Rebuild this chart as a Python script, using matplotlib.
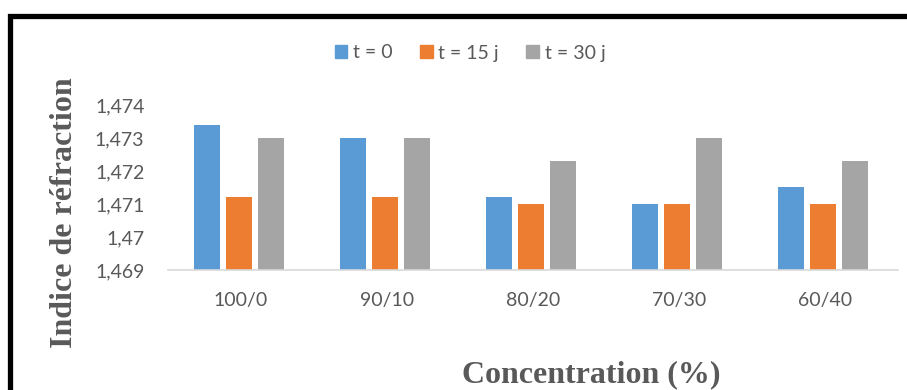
import matplotlib
matplotlib.use("Agg")
import matplotlib.pyplot as plt
import numpy as np
from matplotlib.patches import Rectangle, Patch

categories = ["100/0", "90/10", "80/20", "70/30", "60/40"]
series_names = ["t = 0", "t = 15 j", "t = 30 j"]
t0 = [1.4734, 1.4730, 1.4712, 1.4710, 1.4715]
t15 = [1.4712, 1.4712, 1.4710, 1.4710, 1.4710]
t30 = [1.4730, 1.4730, 1.4723, 1.4730, 1.4723]
yticks = [1.469, 1.47, 1.471, 1.472, 1.473, 1.474]
ytick_labels = ["1,469", "1,47", "1,471", "1,472", "1,473", "1,474"]
colors = ["#5B9BD5", "#ED7D31", "#A5A5A5"]

fig = plt.figure(figsize=(9.07, 3.9), dpi=100)
ax = fig.add_axes([168/907, 1-270/390, 730/907, 165/390])

x = np.arange(len(categories))
w = 26/146
gap = 6/146
for i, (vals, c, name) in enumerate(zip([t0, t15, t30], colors, series_names)):
    ax.bar(x + (i-1)*(w+gap) - 2/146, np.array(vals) - 1.469, width=w, bottom=1.469,
           color=c, label=name)

ax.set_xlim(-0.5, len(categories)-0.5)
ax.set_ylim(1.469, 1.474)
ax.set_yticks(yticks)
ax.set_yticklabels(ytick_labels)
ax.set_xticks(x)
ax.set_xticklabels(categories)
for s in ["top", "right", "left"]:
    ax.spines[s].set_visible(False)
ax.spines["bottom"].set_color("#D9D9D9")
ax.spines["bottom"].set_linewidth(1.2)
ax.tick_params(axis="both", length=0, labelsize=14, labelcolor="#595959")
ax.tick_params(axis="x", pad=16)
ax.tick_params(axis="y", pad=17)
for lab in ax.get_xticklabels() + ax.get_yticklabels():
    lab.set_fontfamily("Lato")

ax.set_ylabel("Indice de réfraction", fontsize=23, fontweight="bold",
              family="Liberation Serif", color="#595959")
ax.yaxis.set_label_coords(-0.122, 0.35)
fig.text(591/907, 1-375/390, "Concentration (%)", fontsize=23, fontweight="bold",
         family="Liberation Serif", color="#595959", ha="center", va="center")

handles = [Patch(color=c) for c in colors]
leg = fig.legend(handles, series_names, loc="center", bbox_to_anchor=(470/907, 1-53/390),
                 ncol=3, frameon=False, handlelength=0.65, handleheight=0.65,
                 handletextpad=0.3, columnspacing=1.4,
                 prop={"family": "Lato", "size": 14})
for t in leg.get_texts():
    t.set_color("#595959")

fig.patches.append(Rectangle((10/907, -0.1), 1.2, 1-16/390+0.1, transform=fig.transFigure,
                             fill=False, edgecolor="black", linewidth=3.8))

fig.savefig("out.png", dpi=100)
